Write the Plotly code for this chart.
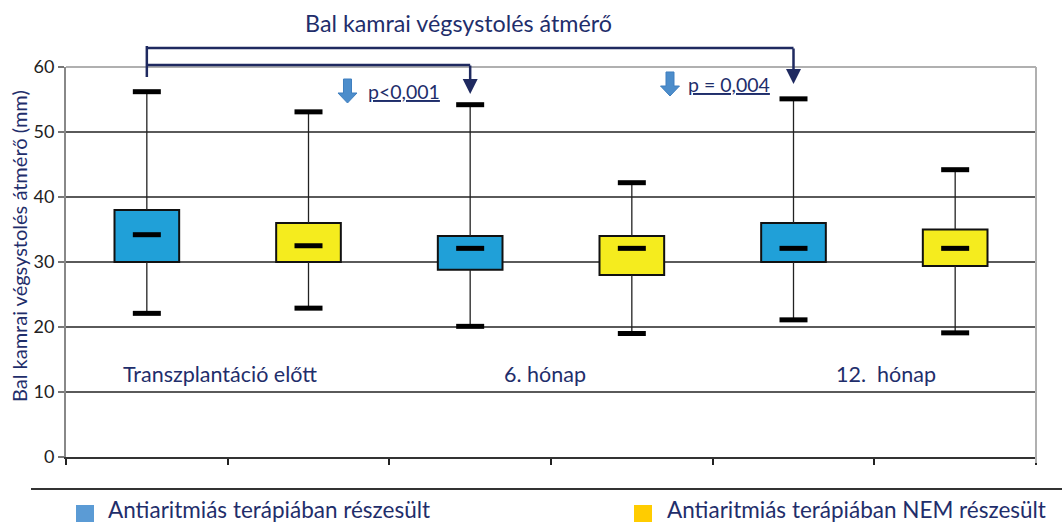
import plotly.graph_objects as go

# ---- data ----
positions = [1, 2, 3, 4, 5, 6]
groups = ["treated", "untreated", "treated", "untreated", "treated", "untreated"]
lower_fence = [22.1, 22.9, 20.1, 19.0, 21.1, 19.1]
q1_vals = [30.0, 30.0, 28.8, 28.0, 30.0, 29.4]
median_vals = [34.2, 32.5, 32.1, 32.1, 32.1, 32.1]
q3_vals = [38.0, 36.0, 34.0, 34.0, 36.0, 35.0]
upper_fence = [56.2, 53.1, 54.2, 42.2, 55.1, 44.2]

period_labels = ["Transzplantáció előtt", "6. hónap", "12.\u00a0 hónap"]
period_label_x = [1.45, 3.46, 5.57]
period_label_y = 12.8

legend_labels = ["Antiaritmiás terápiában részesült", "Antiaritmiás terápiában NEM részesült"]
title_text = "Bal kamrai végsystolés átmérő"
yaxis_title = "Bal kamrai végsystolés átmérő (mm)"
p_texts = ["p<0,001", "p = 0,004"]

# ---- style ----
NAVY = "#1F2E6B"
BOX_COLORS = {"treated": "#20A0D8", "untreated": "#F5EC1E"}
LEGEND_COLORS = ["#5B9BD5", "#FFCC00"]
FONT = "Lato"

W, H = 1062, 522
ML, MR, MT, MB = 66, 26, 67, 65
PW, PH = W - ML - MR, H - MT - MB


def pxx(px):
    return (px - ML) / PW


def pxy(py):
    return (H - MB - py) / PH


fig = go.Figure()

# boxes (bars with base)
for g in ["treated", "untreated"]:
    idx = [i for i, gg in enumerate(groups) if gg == g]
    fig.add_trace(go.Bar(
        x=[positions[i] for i in idx],
        y=[q3_vals[i] - q1_vals[i] for i in idx],
        base=[q1_vals[i] for i in idx],
        width=0.4,
        marker=dict(color=BOX_COLORS[g], line=dict(color="#111111", width=2)),
        showlegend=False, hoverinfo="skip",
    ))

# whiskers (segments outside the box)
wx, wy = [], []
for i, p in enumerate(positions):
    wx += [p, p, None, p, p, None]
    wy += [lower_fence[i], q1_vals[i], None, q3_vals[i], upper_fence[i], None]
fig.add_trace(go.Scatter(x=wx, y=wy, mode="lines",
                         line=dict(color="#222222", width=1.3),
                         showlegend=False, hoverinfo="skip"))

# caps and medians
fig.add_trace(go.Scatter(
    x=positions * 3,
    y=lower_fence + upper_fence + median_vals,
    mode="markers",
    marker=dict(symbol="line-ew", size=20, line=dict(color="#000000", width=5)),
    showlegend=False, hoverinfo="skip",
))

shapes = []
annotations = []

# light border on top and right
shapes.append(dict(type="line", xref="paper", yref="paper", x0=0, x1=1, y0=1, y1=1,
                   line=dict(color="#B0B0B0", width=2), layer="above"))
shapes.append(dict(type="line", xref="paper", yref="paper", x0=1, x1=1, y0=1, y1=pxy(H - MB + 6),
                   line=dict(color="#B0B0B0", width=2), layer="above"))

# brackets
BR = dict(color="#1F2A60", width=2.5)
shapes.append(dict(type="line", xref="x", yref="paper", x0=1, x1=1, y0=pxy(77), y1=pxy(46), line=BR))
shapes.append(dict(type="line", xref="x", yref="paper", x0=1, x1=5, y0=pxy(48), y1=pxy(48), line=BR))
shapes.append(dict(type="line", xref="x", yref="paper", x0=1, x1=3, y0=pxy(65), y1=pxy(65), line=BR))
annotations.append(dict(x=3, y=pxy(94), xref="x", yref="paper", text="", showarrow=True,
                        arrowhead=2, arrowsize=1.2, arrowwidth=2.5, arrowcolor="#1F2A60",
                        ax=0, ay=-30))
annotations.append(dict(x=5, y=pxy(84), xref="x", yref="paper", text="", showarrow=True,
                        arrowhead=2, arrowsize=1.2, arrowwidth=2.5, arrowcolor="#1F2A60",
                        ax=0, ay=-37))


# blue block arrows
def block_arrow(cx, top, neck, tip, shaft=8, head=19):
    pts = [(cx - shaft / 2, top), (cx + shaft / 2, top), (cx + shaft / 2, neck),
           (cx + head / 2, neck), (cx, tip), (cx - head / 2, neck), (cx - shaft / 2, neck)]
    d = "M " + " L ".join(f"{pxx(a):.5f},{pxy(b):.5f}" for a, b in pts) + " Z"
    return dict(type="path", xref="paper", yref="paper", path=d,
                fillcolor="#4C8DCB", line=dict(color="#3F7FBF", width=1))


shapes.append(block_arrow(347.5, 79, 93, 103))
shapes.append(block_arrow(670, 72, 86, 96))

annotations.append(dict(x=pxx(366), y=pxy(91), xref="paper", yref="paper",
                        text="<u>" + p_texts[0] + "</u>", showarrow=False,
                        xanchor="left", yanchor="middle",
                        font=dict(family=FONT, size=19.5, color=NAVY)))
annotations.append(dict(x=pxx(686), y=pxy(85), xref="paper", yref="paper",
                        text="<u>" + p_texts[1] + "</u>", showarrow=False,
                        xanchor="left", yanchor="middle",
                        font=dict(family=FONT, size=19.5, color=NAVY)))

# title
annotations.append(dict(x=pxx(458), y=pxy(23), xref="paper", yref="paper", text=title_text,
                        showarrow=False, xanchor="center", yanchor="middle",
                        font=dict(family=FONT, size=23.3, color=NAVY)))

# y-axis title
annotations.append(dict(x=pxx(19), y=pxy(246), xref="paper", yref="paper", text=yaxis_title,
                        textangle=-90, showarrow=False, xanchor="center", yanchor="middle",
                        font=dict(family=FONT, size=20, color=NAVY)))

# period labels
for lbl, lx in zip(period_labels, period_label_x):
    annotations.append(dict(x=lx, y=period_label_y, xref="x", yref="y", text=lbl,
                            showarrow=False, xanchor="center", yanchor="middle",
                            font=dict(family=FONT, size=21.5, color=NAVY)))

# legend (bottom)
shapes.append(dict(type="line", xref="paper", yref="paper", x0=pxx(31), x1=pxx(1062),
                   y0=pxy(489), y1=pxy(489), line=dict(color="#333333", width=2)))
leg_sq_x = [76, 634]
leg_txt_x = [106, 665]
for i in range(2):
    shapes.append(dict(type="rect", xref="paper", yref="paper",
                       x0=pxx(leg_sq_x[i]), x1=pxx(leg_sq_x[i] + 18),
                       y0=pxy(505), y1=pxy(525),
                       fillcolor=LEGEND_COLORS[i], line=dict(width=0)))
    annotations.append(dict(x=pxx(leg_txt_x[i]), y=pxy(509), xref="paper", yref="paper",
                            text=legend_labels[i], showarrow=False,
                            xanchor="left", yanchor="middle",
                            font=dict(family=FONT, size=22.5, color=NAVY)))

fig.update_layout(
    width=W, height=H,
    margin=dict(l=ML, r=MR, t=MT, b=MB, pad=0),
    paper_bgcolor="white", plot_bgcolor="white",
    barmode="overlay",
    shapes=shapes, annotations=annotations,
    font=dict(family=FONT),
    xaxis=dict(range=[0.5, 6.5], tickvals=[0.5, 1.5, 2.5, 3.5, 4.5, 5.5, 6.5],
               ticktext=[""] * 7, ticks="outside", ticklen=6, tickwidth=2,
               tickcolor="#222222", showgrid=False, zeroline=False,
               showline=True, linecolor="#333333", linewidth=2, fixedrange=True),
    yaxis=dict(range=[0, 60], tickvals=[0, 10, 20, 30, 40, 50, 60],
               ticks="outside", ticklen=6, tickwidth=1.5, tickcolor="#777777",
               showgrid=True, gridcolor="#5A5A5A", gridwidth=1.6,
               zeroline=False, showline=True, linecolor="#888888", linewidth=2,
               tickfont=dict(family=FONT, size=18, color="#222222"), fixedrange=True),
)

fig.write_html("out.html", config={"displayModeBar": False},
               post_script="document.body.style.margin='0';document.body.style.overflow='hidden';")
